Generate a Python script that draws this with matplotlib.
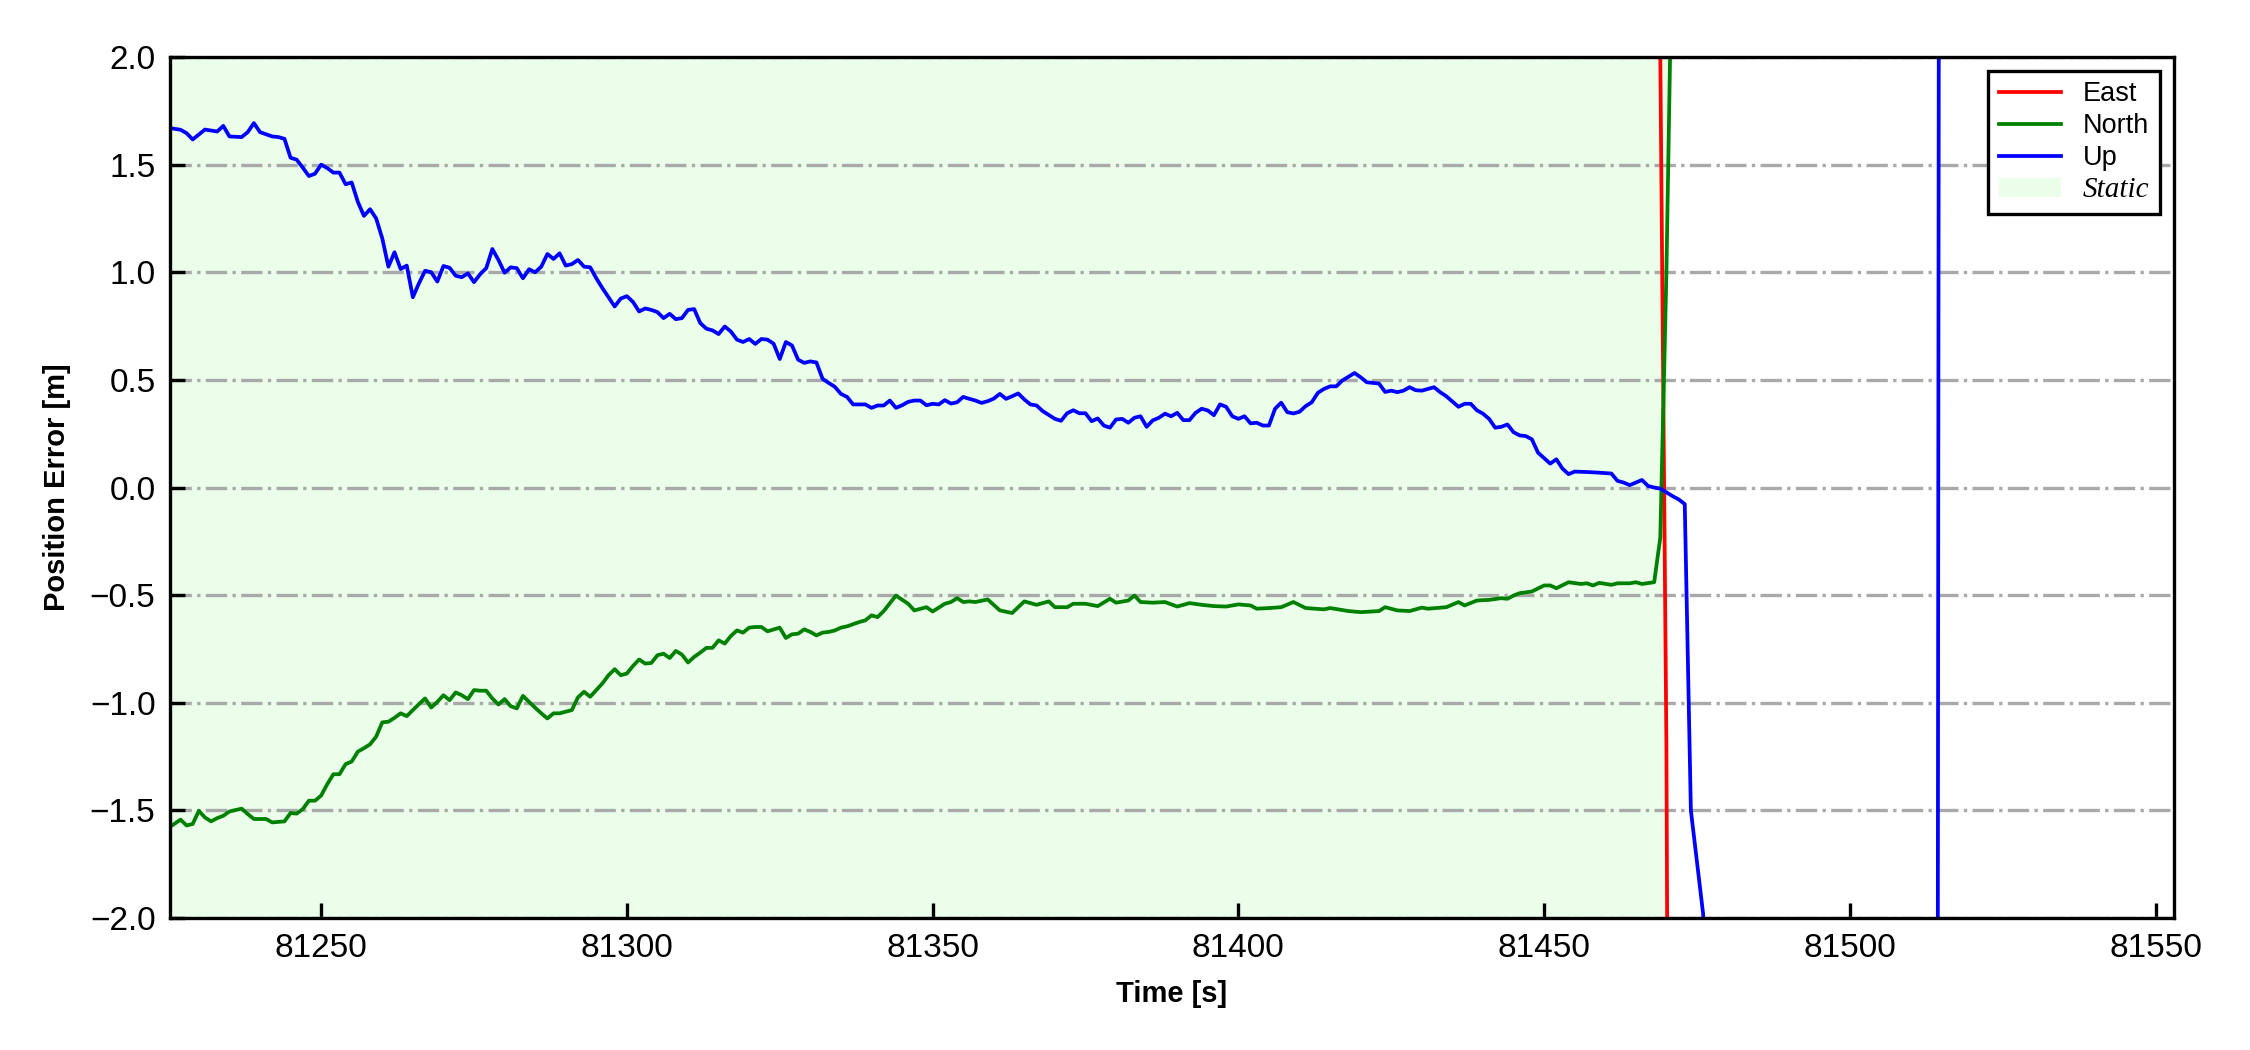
import matplotlib
matplotlib.use("Agg")
import matplotlib.pyplot as plt

plt.rcParams['font.family'] = ['Liberation Sans', 'DejaVu Sans']

# Up error (blue)
up_t = [81225, 81227, 81228, 81229, 81231, 81233, 81234, 81235, 81237, 81238,
        81239, 81240, 81242, 81243, 81244, 81245, 81246, 81247, 81248, 81249,
        81250, 81251, 81252, 81253, 81254, 81255, 81256, 81257, 81258, 81259,
        81260, 81261, 81262, 81263, 81264, 81265, 81266, 81267, 81268, 81269,
        81270, 81271, 81272, 81273, 81274, 81275, 81276, 81277, 81278, 81279,
        81280, 81281, 81282, 81283, 81284, 81285, 81286, 81287, 81288, 81289,
        81290, 81291, 81292, 81293, 81294, 81295, 81296, 81297, 81298, 81299,
        81300, 81301, 81302, 81303, 81304, 81305, 81306, 81307, 81308, 81309,
        81310, 81311, 81312, 81313, 81314, 81315, 81316, 81317, 81318, 81319,
        81320, 81321, 81322, 81323, 81324, 81325, 81326, 81327, 81328, 81329,
        81330, 81331, 81332, 81333, 81334, 81335, 81336, 81337, 81338, 81339,
        81340, 81341, 81342, 81343, 81344, 81345, 81346, 81347, 81348, 81349,
        81350, 81351, 81352, 81353, 81354, 81355, 81356, 81357, 81358, 81359,
        81360, 81361, 81362, 81363, 81364, 81365, 81366, 81367, 81368, 81369,
        81370, 81371, 81372, 81373, 81374, 81375, 81376, 81377, 81378, 81379,
        81380, 81381, 81382, 81383, 81384, 81385, 81386, 81387, 81388, 81389,
        81390, 81391, 81392, 81393, 81394, 81395, 81396, 81397, 81398, 81399,
        81400, 81401, 81402, 81403, 81404, 81405, 81406, 81407, 81408, 81409,
        81410, 81411, 81412, 81413, 81414, 81415, 81416, 81417, 81419, 81420,
        81421, 81423, 81424, 81425, 81426, 81427, 81428, 81429, 81430, 81432,
        81433, 81434, 81436, 81437, 81438, 81439, 81440, 81441, 81442, 81443,
        81444, 81445, 81446, 81447, 81448, 81449, 81451, 81452, 81453, 81454,
        81455, 81457, 81459, 81461, 81462, 81463, 81464, 81466, 81467, 81468,
        81469, 81471, 81472, 81473, 81474, 81475, 81476, 81477, 81490, 81514,
        81515, 81553]
up_v = [1.671, 1.662, 1.646, 1.617, 1.663, 1.654, 1.680, 1.631, 1.628, 1.651,
        1.693, 1.651, 1.631, 1.628, 1.620, 1.532, 1.523, 1.486, 1.447, 1.458,
        1.500, 1.484, 1.463, 1.463, 1.409, 1.417, 1.327, 1.262, 1.293, 1.250,
        1.157, 1.026, 1.093, 1.015, 1.031, 0.884, 0.949, 1.007, 1.000, 0.957,
        1.029, 1.021, 0.984, 0.977, 0.995, 0.954, 0.991, 1.019, 1.108, 1.057,
        0.998, 1.023, 1.019, 0.972, 1.014, 1.000, 1.026, 1.085, 1.062, 1.088,
        1.031, 1.038, 1.057, 1.026, 1.023, 0.972, 0.926, 0.884, 0.841, 0.878,
        0.889, 0.862, 0.818, 0.832, 0.825, 0.815, 0.787, 0.807, 0.782, 0.787,
        0.825, 0.829, 0.764, 0.738, 0.730, 0.713, 0.748, 0.725, 0.687, 0.676,
        0.690, 0.667, 0.690, 0.687, 0.668, 0.597, 0.676, 0.660, 0.594, 0.579,
        0.586, 0.581, 0.505, 0.486, 0.468, 0.435, 0.421, 0.386, 0.386, 0.386,
        0.370, 0.381, 0.381, 0.404, 0.370, 0.382, 0.398, 0.404, 0.404, 0.382,
        0.389, 0.386, 0.406, 0.390, 0.396, 0.421, 0.412, 0.404, 0.393, 0.401,
        0.413, 0.435, 0.412, 0.424, 0.437, 0.409, 0.386, 0.381, 0.355, 0.337,
        0.319, 0.310, 0.345, 0.359, 0.345, 0.345, 0.308, 0.321, 0.288, 0.278,
        0.316, 0.319, 0.301, 0.324, 0.331, 0.282, 0.312, 0.324, 0.343, 0.331,
        0.347, 0.313, 0.313, 0.347, 0.366, 0.358, 0.336, 0.386, 0.375, 0.331,
        0.319, 0.331, 0.298, 0.301, 0.288, 0.288, 0.366, 0.394, 0.350, 0.344,
        0.352, 0.378, 0.396, 0.440, 0.458, 0.470, 0.470, 0.497, 0.532, 0.512,
        0.489, 0.483, 0.444, 0.450, 0.443, 0.450, 0.466, 0.452, 0.450, 0.466,
        0.443, 0.424, 0.375, 0.389, 0.389, 0.359, 0.343, 0.319, 0.278, 0.282,
        0.293, 0.257, 0.242, 0.239, 0.224, 0.162, 0.111, 0.131, 0.088, 0.062,
        0.074, 0.072, 0.069, 0.065, 0.031, 0.023, 0.011, 0.035, 0.007, 0.000,
        -0.005, -0.040, -0.055, -0.077, -1.50, -1.74, -1.98, -2.6, -8.0, -12.0,
        14.0, 14.0]

# North error (green)
north_t = [81225, 81227, 81228, 81229, 81230, 81231, 81232, 81233, 81234, 81235,
           81237, 81238, 81239, 81241, 81242, 81244, 81245, 81246, 81247, 81248,
           81249, 81250, 81251, 81252, 81253, 81254, 81255, 81256, 81257, 81258,
           81259, 81260, 81261, 81262, 81263, 81264, 81265, 81266, 81267, 81268,
           81269, 81270, 81271, 81272, 81273, 81274, 81275, 81276, 81277, 81278,
           81279, 81280, 81281, 81282, 81283, 81284, 81285, 81286, 81287, 81288,
           81289, 81291, 81292, 81293, 81294, 81295, 81296, 81297, 81298, 81299,
           81300, 81301, 81302, 81303, 81304, 81305, 81306, 81307, 81308, 81309,
           81310, 81311, 81312, 81313, 81314, 81315, 81316, 81317, 81318, 81319,
           81320, 81321, 81322, 81323, 81325, 81326, 81327, 81328, 81329, 81330,
           81331, 81332, 81333, 81334, 81335, 81336, 81338, 81339, 81340, 81341,
           81342, 81344, 81346, 81347, 81349, 81350, 81352, 81353, 81354, 81355,
           81356, 81357, 81359, 81361, 81363, 81365, 81367, 81369, 81370, 81372,
           81373, 81375, 81377, 81379, 81380, 81382, 81383, 81384, 81386, 81388,
           81390, 81392, 81394, 81396, 81398, 81400, 81402, 81403, 81405, 81407,
           81409, 81411, 81414, 81415, 81418, 81420, 81423, 81424, 81426, 81428,
           81430, 81431, 81434, 81436, 81437, 81439, 81441, 81443, 81444, 81445,
           81446, 81448, 81450, 81451, 81452, 81454, 81456, 81457, 81458, 81459,
           81461, 81462, 81464, 81465, 81466, 81468, 81469, 81470, 81471, 81472,
           81553]
north_v = [-1.582, -1.543, -1.570, -1.563, -1.502, -1.533, -1.551, -1.536, -1.525, -1.505,
           -1.492, -1.517, -1.540, -1.540, -1.556, -1.551, -1.512, -1.515, -1.494, -1.455,
           -1.455, -1.431, -1.378, -1.332, -1.332, -1.285, -1.273, -1.227, -1.211, -1.193,
           -1.157, -1.091, -1.088, -1.070, -1.049, -1.062, -1.034, -1.006, -0.980, -1.022,
           -0.996, -0.965, -0.988, -0.952, -0.965, -0.983, -0.941, -0.944, -0.944, -0.980,
           -1.008, -0.983, -1.016, -1.026, -0.968, -0.996, -1.023, -1.049, -1.073, -1.049,
           -1.049, -1.034, -0.975, -0.949, -0.972, -0.941, -0.910, -0.872, -0.844, -0.872,
           -0.864, -0.829, -0.799, -0.818, -0.815, -0.779, -0.772, -0.792, -0.759, -0.776,
           -0.813, -0.787, -0.767, -0.745, -0.745, -0.710, -0.725, -0.690, -0.664, -0.674,
           -0.651, -0.648, -0.648, -0.668, -0.651, -0.699, -0.682, -0.679, -0.659, -0.671,
           -0.687, -0.674, -0.671, -0.664, -0.651, -0.645, -0.625, -0.617, -0.594, -0.602,
           -0.574, -0.502, -0.540, -0.571, -0.556, -0.576, -0.540, -0.532, -0.514, -0.532,
           -0.529, -0.532, -0.520, -0.571, -0.583, -0.529, -0.545, -0.529, -0.556, -0.556,
           -0.540, -0.540, -0.551, -0.517, -0.535, -0.525, -0.502, -0.532, -0.535, -0.532,
           -0.553, -0.537, -0.545, -0.551, -0.553, -0.543, -0.548, -0.563, -0.560, -0.556,
           -0.532, -0.560, -0.566, -0.560, -0.574, -0.579, -0.574, -0.556, -0.571, -0.574,
           -0.558, -0.563, -0.556, -0.532, -0.548, -0.525, -0.522, -0.514, -0.517, -0.502,
           -0.491, -0.483, -0.455, -0.455, -0.468, -0.440, -0.448, -0.445, -0.455, -0.443,
           -0.452, -0.445, -0.445, -0.440, -0.448, -0.440, -0.232, 1.00, 2.67, 5.5,
           9.0]

# East error (red): off the top during the static part, then off the bottom
east_t = [81225, 81468, 81469, 81470, 81471, 81553]
east_v = [6.0, 6.0, 2.0, -1.2, -8.0, -8.0]

static_start = 81225.3
static_end = 81470.2

fig, ax = plt.subplots(figsize=(7.5, 3.5), dpi=300)
fig.subplots_adjust(left=0.0756, right=0.9662, bottom=0.1257, top=0.9457)

ax.axvspan(static_start, static_end, color='palegreen', alpha=0.2, lw=0, zorder=0, label='Static')
ax.plot(east_t, east_v, color='red', lw=0.9, label='East')
ax.plot(north_t, north_v, color='green', lw=0.9, label='North')
ax.plot(up_t, up_v, color='blue', lw=0.9, label='Up')

ax.set_xlim(81225.3, 81553)
ax.set_ylim(-2, 2)
ax.set_yticks([-2.0, -1.5, -1.0, -0.5, 0.0, 0.5, 1.0, 1.5, 2.0])
ax.set_xticks([81250, 81300, 81350, 81400, 81450, 81500, 81550])
ax.yaxis.grid(True, linestyle='-.', color='darkgray', lw=0.8, zorder=0.5)

ax.tick_params(direction='in', length=3.5, width=0.8, labelsize=8, top=False, right=False)
for s in ax.spines.values():
    s.set_linewidth(0.8)

ax.set_xlabel('Time [s]', fontsize=7, fontweight='bold', labelpad=4)
ax.set_ylabel('Position Error [m]', fontsize=7, fontweight='bold', labelpad=4.5)

handles, labels = ax.get_legend_handles_labels()
order = [1, 2, 3, 0]
leg = ax.legend([handles[i] for i in order], [labels[i] for i in order],
                loc='upper right', fontsize=6.5, fancybox=False, framealpha=1,
                edgecolor='black', labelspacing=0.22, borderpad=0.4,
                handlelength=2.3, handletextpad=0.8)
leg.get_frame().set_linewidth(0.8)
st = leg.get_texts()[3]
st.set_fontfamily(['Liberation Serif', 'DejaVu Serif'])
st.set_fontstyle('italic')
st.set_fontsize(7)

fig.savefig('out.png', dpi=300)
